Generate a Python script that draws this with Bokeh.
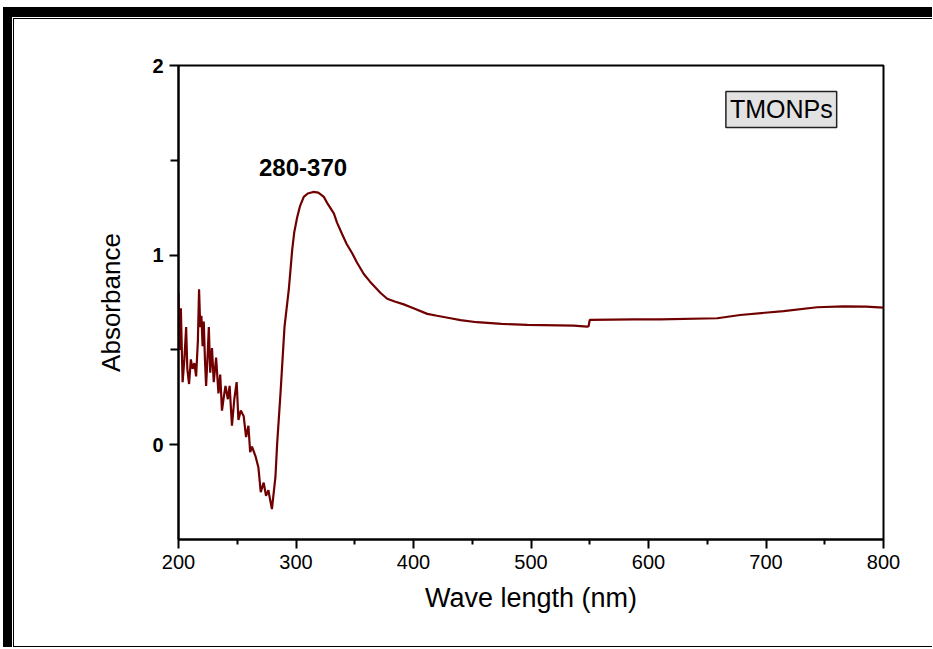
from bokeh.plotting import figure
from bokeh.layouts import column
from bokeh.models import Range1d, Label, FixedTicker
from bokeh.embed import file_html
from bokeh.resources import INLINE

# ---- data ----
wavelength = [200.0, 201.0, 202.0, 203.5, 205.0, 206.5, 207.5, 209.0, 210.5, 212.0,
              213.5, 215.0, 216.5, 217.5, 218.5, 219.5, 220.5, 221.5, 222.5, 223.5,
              225.0, 225.8, 227.0, 228.5, 230.0, 232.0, 234.0, 235.5, 237.0, 238.5,
              240.0, 242.0, 243.5, 245.5, 247.5, 249.5, 251.0, 253.0, 255.5, 257.5,
              259.5, 261.0, 262.5, 265.5, 268.0, 270.0, 272.5, 274.5, 276.5, 278.0,
              279.5, 282.5, 284.0, 286.8, 290.2, 293.9, 296.8, 298.5, 301.0, 303.5,
              306.6, 310.0, 314.6, 319.0, 323.7, 327.0, 332.2, 335.0, 339.3, 343.0,
              347.8, 352.0, 357.7, 363.0, 369.0, 372.0, 377.6, 384.0, 391.7, 400.0,
              411.7, 420.0, 431.5, 440.0, 454.0, 475.0, 496.8, 536.4, 547.8, 549.0,
              550.0, 587.5, 610.0, 658.5, 678.0, 715.0, 743.5, 766.0, 785.0, 800.0]
absorbance = [0.80, 0.50, 0.72, 0.33, 0.45, 0.62, 0.40, 0.32, 0.45, 0.40,
              0.43, 0.36, 0.55, 0.82, 0.62, 0.68, 0.52, 0.65, 0.45, 0.31,
              0.50, 0.62, 0.38, 0.51, 0.33, 0.46, 0.27, 0.37, 0.18, 0.25,
              0.31, 0.24, 0.31, 0.10, 0.24, 0.33, 0.13, 0.18, 0.15, 0.04,
              0.10, -0.04, -0.01, -0.06, -0.12, -0.25, -0.20, -0.27, -0.24, -0.29,
              -0.34, -0.17, 0.01, 0.27, 0.62, 0.82, 1.03, 1.12, 1.20, 1.26,
              1.307, 1.325, 1.333, 1.33, 1.307, 1.27, 1.22, 1.17, 1.11, 1.06,
              1.01, 0.96, 0.90, 0.86, 0.82, 0.80, 0.77, 0.755, 0.74, 0.72,
              0.69, 0.68, 0.667, 0.657, 0.646, 0.637, 0.632, 0.628, 0.623, 0.625,
              0.658, 0.661, 0.661, 0.667, 0.684, 0.705, 0.725, 0.73, 0.728, 0.723]

x_ticks = [200, 300, 400, 500, 600, 700, 800]
x_minor_ticks = [250, 350, 450, 550, 650, 750]
y_ticks = [0, 1, 2]
y_minor_ticks = [0.5, 1.5]

x_label = "Wave length (nm)"
y_label = "Absorbance"
peak_label = "280-370"
sample_label = "TMONPs"

FONT = "Liberation Sans"

# canvas origin on the page is at about (14, 19) because of the frame borders
p = figure(width=919, height=629,
           x_range=Range1d(200, 800), y_range=Range1d(-0.5, 2),
           output_backend="svg", toolbar_location=None,
           min_border_left=164, min_border_right=50,
           min_border_top=46, min_border_bottom=109,
           background_fill_color="white", border_fill_color="white")
p.styles = {"border-top": "1.5px solid black", "border-left": "1.5px solid black",
            "border-bottom": "1.5px solid black"}

p.grid.visible = False
p.outline_line_color = "black"
p.outline_line_width = 2

p.xaxis.ticker = FixedTicker(ticks=x_ticks, minor_ticks=x_minor_ticks)
p.yaxis.ticker = FixedTicker(ticks=y_ticks, minor_ticks=y_minor_ticks)

for ax in (p.xaxis[0], p.yaxis[0]):
    ax.axis_line_color = "black"
    ax.axis_line_width = 2
    ax.major_tick_line_color = "black"
    ax.major_tick_line_width = 2
    ax.minor_tick_line_color = "black"
    ax.minor_tick_line_width = 2
    ax.major_tick_in = 0
    ax.minor_tick_in = 0
    ax.major_tick_out = 9
    ax.major_label_text_color = "black"
    ax.major_label_text_font = FONT
    ax.axis_label_text_font = FONT
    ax.axis_label_text_font_style = "normal"
    ax.axis_label_text_color = "black"

p.xaxis.axis_label_text_font_size = "27px"
p.yaxis.axis_label_text_font_size = "26px"
p.xaxis.minor_tick_out = 5
p.yaxis.minor_tick_out = 8
p.xaxis.major_label_text_font_size = "20px"
p.yaxis.major_label_text_font_size = "20px"
p.yaxis.major_label_text_font_style = "bold"
p.xaxis.major_label_standoff = 6
p.yaxis.major_label_standoff = 6
p.xaxis.axis_label = x_label
p.yaxis.axis_label = y_label
p.xaxis.axis_label_standoff = 11
p.yaxis.axis_label_standoff = 23

p.line(wavelength, absorbance, line_color="#700000", line_width=2.2)

p.add_layout(Label(x=306, y=1.46, text=peak_label, text_font=FONT,
                   text_font_size="24px", text_font_style="bold",
                   text_align="center", text_baseline="alphabetic",
                   text_color="black"))

p.add_layout(Label(x=713, y=1.768, text=sample_label, text_font=FONT,
                   text_font_size="25px", text_align="center",
                   text_baseline="middle", text_color="black",
                   background_fill_color="#e2e2e2",
                   border_line_color="#222222", border_line_width=1.5,
                   padding=4))

layout = column(p)
layout.styles = {"margin-left": "3px", "margin-top": "7px",
                 "border-top": "10px solid black", "border-left": "9px solid black",
                 "padding-top": "1px", "padding-left": "1px",
                 "background-color": "white"}

open("out.html", "w").write(file_html(layout, INLINE))
